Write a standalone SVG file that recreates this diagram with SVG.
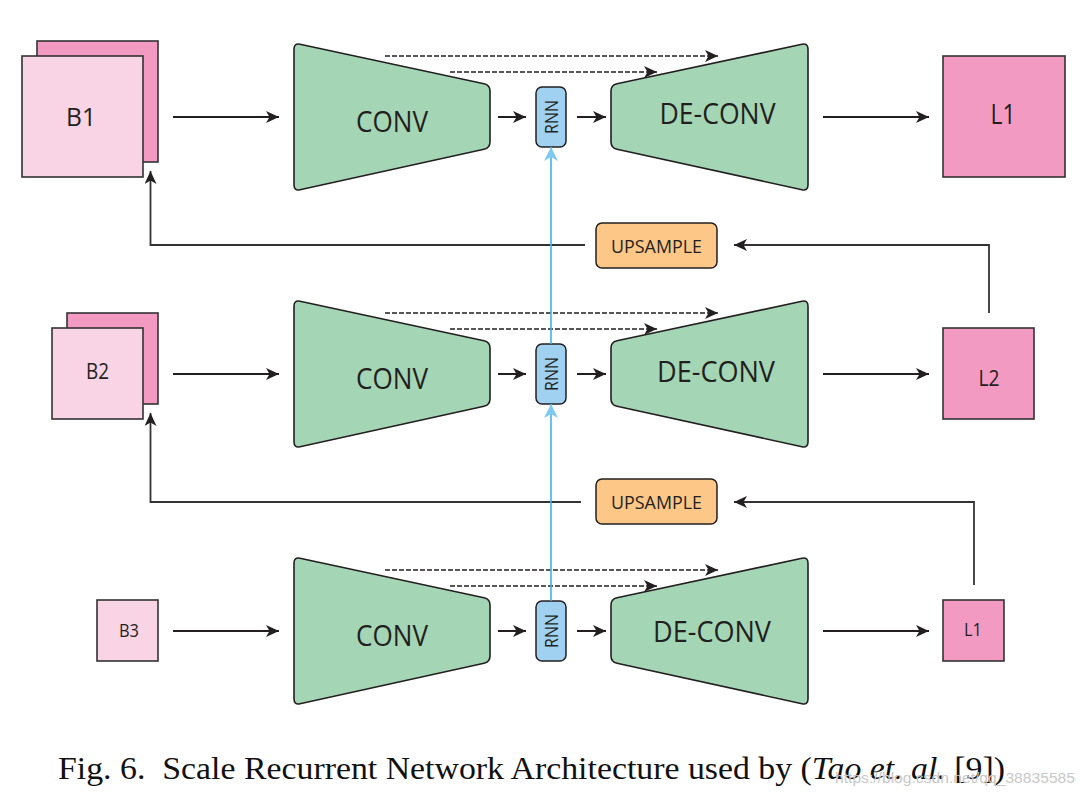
<svg xmlns="http://www.w3.org/2000/svg" xmlns:xlink="http://www.w3.org/1999/xlink" width="1080" height="798" viewBox="0 0 1080 798">
<style>
.trap{fill:#A4D6B6;stroke:#231F20;stroke-width:1.6}
.bl{fill:#F9D4E5;stroke:#333;stroke-width:1.6}
.bd{fill:#F39AC2;stroke:#333;stroke-width:1.6}
.rnn{fill:#A0D1F0;stroke:#231F20;stroke-width:1.5}
.up{fill:#FDC788;stroke:#231F20;stroke-width:1.5}
.lbl{font-family:"Open Sans","Liberation Sans",sans-serif;fill:#231F20;text-anchor:middle}
.ar{fill:none;stroke:#231F20;stroke-width:2}
.fb{fill:none;stroke:#333;stroke-width:1.8}
.ds{fill:none;stroke:#231F20;stroke-width:1.3;stroke-dasharray:5 2}
.bu{fill:none;stroke:#3DB3EC;stroke-width:1.6}
</style>
<defs>
<marker id="ah" markerUnits="userSpaceOnUse" markerWidth="16" markerHeight="14" refX="13" refY="6" orient="auto">
<path d="M0,0 L13,6 L0,12 L3.5,6 Z" fill="#231F20"/>
</marker>
<marker id="ahb" markerUnits="userSpaceOnUse" markerWidth="16" markerHeight="16" refX="14" refY="7" orient="auto">
<path d="M0,0 L14,7 L0,14 L4,7 Z" fill="#7EC9F0"/>
</marker>
<path id="conv" d="M294,49 Q294,43 300,44.3 L484,83.7 Q490,85 490,91 L490,142 Q490,148 484,149.3 L300,189.7 Q294,191 294,185 Z"/>
<path id="deconv" d="M611,91 Q611,85 617,83.7 L802,44.3 Q808,43 808,49 L808,185 Q808,191 802,189.7 L617,149.3 Q611,148 611,142 Z"/>
</defs>

<!-- Row 1 -->
<g id="B1">
<rect class="bd" x="37" y="41" width="121" height="121"/>
<rect class="bl" x="22" y="56" width="121" height="121"/>
<text class="lbl" x="81" y="126" font-size="25" textLength="30" lengthAdjust="spacingAndGlyphs">B1</text>
</g>
<g id="conv1">
<use xlink:href="#conv" class="trap"/>
<text class="lbl" x="392" y="131.5" font-size="30" textLength="72" lengthAdjust="spacingAndGlyphs">CONV</text>
</g>
<g id="rnn1">
<rect class="rnn" x="536" y="87" width="30" height="60" rx="6"/>
<text class="lbl" transform="translate(551,117) rotate(-90)" x="0" y="6.5" font-size="18" textLength="34" lengthAdjust="spacingAndGlyphs">RNN</text>
</g>
<g id="deconv1">
<use xlink:href="#deconv" class="trap"/>
<text class="lbl" x="717.5" y="123.5" font-size="29" textLength="116" lengthAdjust="spacingAndGlyphs">DE-CONV</text>
</g>
<g id="L1top">
<rect class="bd" x="943" y="56" width="122" height="121"/>
<text class="lbl" x="1003" y="124" font-size="27" textLength="25" lengthAdjust="spacingAndGlyphs">L1</text>
</g>
<g id="upsample1">
<rect class="up" x="596" y="223" width="121" height="45" rx="6"/>
<text class="lbl" x="656.5" y="252.5" font-size="19" textLength="91" lengthAdjust="spacingAndGlyphs">UPSAMPLE</text>
</g>

<!-- Row 2 -->
<g id="B2">
<rect class="bd" x="67" y="313" width="91" height="91"/>
<rect class="bl" x="52" y="328" width="91" height="91"/>
<text class="lbl" x="97.5" y="379" font-size="22" textLength="23" lengthAdjust="spacingAndGlyphs">B2</text>
</g>
<g id="conv2">
<use xlink:href="#conv" class="trap" transform="translate(0,257)"/>
<text class="lbl" x="392" y="388.5" font-size="30" textLength="72" lengthAdjust="spacingAndGlyphs">CONV</text>
</g>
<g id="rnn2">
<rect class="rnn" x="536" y="344" width="30" height="60" rx="6"/>
<text class="lbl" transform="translate(551,374) rotate(-90)" x="0" y="6.5" font-size="18" textLength="34" lengthAdjust="spacingAndGlyphs">RNN</text>
</g>
<g id="deconv2">
<use xlink:href="#deconv" class="trap" transform="translate(0,257)"/>
<text class="lbl" x="716" y="381.5" font-size="29" textLength="118" lengthAdjust="spacingAndGlyphs">DE-CONV</text>
</g>
<g id="L2">
<rect class="bd" x="943" y="328" width="91" height="91"/>
<text class="lbl" x="989" y="386" font-size="21" textLength="21" lengthAdjust="spacingAndGlyphs">L2</text>
</g>
<g id="upsample2">
<rect class="up" x="596" y="479" width="121" height="45" rx="6"/>
<text class="lbl" x="656.5" y="509" font-size="19" textLength="91" lengthAdjust="spacingAndGlyphs">UPSAMPLE</text>
</g>

<!-- Row 3 -->
<g id="B3">
<rect class="bl" x="97" y="600" width="61" height="61"/>
<text class="lbl" x="129" y="637" font-size="19" textLength="20" lengthAdjust="spacingAndGlyphs">B3</text>
</g>
<g id="conv3">
<use xlink:href="#conv" class="trap" transform="translate(0,514)"/>
<text class="lbl" x="392" y="645.5" font-size="30" textLength="72" lengthAdjust="spacingAndGlyphs">CONV</text>
</g>
<g id="rnn3">
<rect class="rnn" x="536" y="601" width="30" height="60" rx="6"/>
<text class="lbl" transform="translate(551,631) rotate(-90)" x="0" y="6.5" font-size="18" textLength="34" lengthAdjust="spacingAndGlyphs">RNN</text>
</g>
<g id="deconv3">
<use xlink:href="#deconv" class="trap" transform="translate(0,514)"/>
<text class="lbl" x="712" y="641.5" font-size="29" textLength="118" lengthAdjust="spacingAndGlyphs">DE-CONV</text>
</g>
<g id="L1bottom">
<rect class="bd" x="943" y="600" width="61" height="61"/>
<text class="lbl" x="973" y="636" font-size="18" textLength="18" lengthAdjust="spacingAndGlyphs">L1</text>
</g>

<!-- Connectors -->
<g id="connectors">
<!-- row 1 -->
<line class="ar" x1="173" y1="117" x2="279" y2="117" marker-end="url(#ah)"/>
<line class="ar" x1="498" y1="117" x2="526" y2="117" marker-end="url(#ah)"/>
<line class="ar" x1="577" y1="117" x2="606" y2="117" marker-end="url(#ah)"/>
<line class="ar" x1="823" y1="117" x2="929" y2="117" marker-end="url(#ah)"/>
<line class="ds" x1="385" y1="56" x2="718" y2="56" marker-end="url(#ah)"/>
<line class="ds" x1="450" y1="72" x2="657" y2="72" marker-end="url(#ah)"/>
<!-- row 2 -->
<line class="ar" x1="173" y1="374" x2="279" y2="374" marker-end="url(#ah)"/>
<line class="ar" x1="498" y1="374" x2="526" y2="374" marker-end="url(#ah)"/>
<line class="ar" x1="577" y1="374" x2="606" y2="374" marker-end="url(#ah)"/>
<line class="ar" x1="823" y1="374" x2="929" y2="374" marker-end="url(#ah)"/>
<line class="ds" x1="385" y1="313" x2="718" y2="313" marker-end="url(#ah)"/>
<line class="ds" x1="450" y1="329" x2="657" y2="329" marker-end="url(#ah)"/>
<!-- row 3 -->
<line class="ar" x1="173" y1="631" x2="279" y2="631" marker-end="url(#ah)"/>
<line class="ar" x1="498" y1="631" x2="526" y2="631" marker-end="url(#ah)"/>
<line class="ar" x1="577" y1="631" x2="606" y2="631" marker-end="url(#ah)"/>
<line class="ar" x1="823" y1="631" x2="929" y2="631" marker-end="url(#ah)"/>
<line class="ds" x1="385" y1="570" x2="718" y2="570" marker-end="url(#ah)"/>
<line class="ds" x1="450" y1="586" x2="657" y2="586" marker-end="url(#ah)"/>
<!-- feedback -->
<path class="fb" d="M989,313 L989,245 L734,245" marker-end="url(#ah)"/>
<path class="fb" d="M585,245 L150.5,245 L150.5,171" marker-end="url(#ah)"/>
<path class="fb" d="M974,585 L974,502 L734,502" marker-end="url(#ah)"/>
<path class="fb" d="M581,502 L150.5,502 L150.5,413" marker-end="url(#ah)"/>
<!-- recurrent (blue) -->
<line class="bu" x1="551" y1="601" x2="551" y2="404" marker-end="url(#ahb)"/>
<line class="bu" x1="551" y1="344" x2="551" y2="147" marker-end="url(#ahb)"/>
</g>

<text x="58" y="779" font-family="'Liberation Serif','Times New Roman',serif" font-size="32" fill="#111" xml:space="preserve" textLength="947" lengthAdjust="spacingAndGlyphs">Fig. 6.  Scale Recurrent Network Architecture used by (<tspan font-style="italic">Tao et. al.</tspan> [9])</text>
<text x="835" y="783" font-family="'Liberation Sans',Arial,sans-serif" font-size="15" fill="#C8C8C8" textLength="240" lengthAdjust="spacingAndGlyphs">https://blog.csdn.net/qq_38835585</text>
</svg>
